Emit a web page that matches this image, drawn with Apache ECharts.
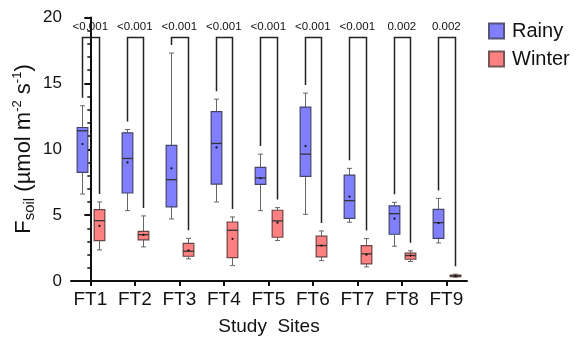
<!DOCTYPE html>
<html><head><meta charset="utf-8">
<script src="https://cdn.jsdelivr.net/npm/echarts@6/dist/echarts.min.js"></script>
<style>html,body{margin:0;padding:0;background:#fff}#c{width:583px;height:341px}</style>
</head><body><div id="c"></div>
<script>
const categories = ['FT1','FT2','FT3','FT4','FT5','FT6','FT7','FT8','FT9'];
const yTicks = [0, 5, 10, 15, 20];
const pValues = ['<0.001','<0.001','<0.001','<0.001','<0.001','<0.001','<0.001','0.002','0.002'];

const rainyMin  = [6.6, 5.34, 4.71, 6.0, 5.34, 5.06, 4.46, 2.64, 2.89];
const rainyQ1   = [8.24, 6.68, 5.62, 7.36, 7.33, 7.94, 4.76, 3.55, 3.24];
const rainyMed  = [11.4, 9.3, 7.69, 10.44, 7.82, 9.63, 6.1, 5.11, 4.43];
const rainyQ3   = [11.65, 11.25, 10.3, 12.86, 8.62, 13.2, 8.04, 5.7, 5.44];
const rainyMax  = [13.3, 11.5, 17.3, 13.8, 9.63, 14.26, 8.55, 5.97, 6.27];
const rainyMean = [10.4, 9.0, 8.55, 10.14, 7.8, 10.24, 6.4, 4.73, 4.4];

const winterMin  = [2.36, 2.59, 1.68, 1.17, 3.07, 1.55, 1.07, 1.48, 0.29];
const winterQ1   = [3.07, 3.12, 1.88, 1.78, 3.32, 1.83, 1.3, 1.65, 0.33];
const winterMed  = [4.58, 3.52, 2.26, 3.85, 4.56, 2.69, 2.06, 1.93, 0.39];
const winterQ3   = [5.42, 3.77, 2.86, 4.48, 5.37, 3.4, 2.69, 2.11, 0.45];
const winterMax  = [6.0, 4.94, 3.24, 4.86, 5.57, 3.8, 3.22, 2.29, 0.52];
const winterMean = [4.18, 3.5, 2.33, 3.2, 4.43, 2.69, 2.0, 1.93, 0.39];

const FONT = 'Liberation Sans, Arial, sans-serif';
const BRACKET_TOP = 18.5;

function boxRenderer(off, stroke) {
  return function (params, api) {
    const i = api.value(0);
    const bw = api.size([1, 0])[0];
    const cx = Math.round(api.coord([i, 0])[0] + off * bw) + 0.5;
    const y = k => api.coord([i, api.value(k)])[1];
    const w = 0.24 * bw, cap = 2.5;
    const yMin = y(1), yQ1 = y(2), yMed = y(3), yQ3 = y(4), yMax = y(5), yMean = y(6);
    const ls = { stroke: '#666', lineWidth: 1 };
    return {
      type: 'group',
      children: [
        { type: 'line', shape: { x1: cx, y1: yMax, x2: cx, y2: yQ3 }, style: ls },
        { type: 'line', shape: { x1: cx, y1: yQ1, x2: cx, y2: yMin }, style: ls },
        { type: 'line', shape: { x1: cx - cap, y1: yMax, x2: cx + cap, y2: yMax }, style: ls },
        { type: 'line', shape: { x1: cx - cap, y1: yMin, x2: cx + cap, y2: yMin }, style: ls },
        { type: 'rect', shape: { x: cx - w / 2, y: yQ3, width: w, height: yQ1 - yQ3 },
          style: { fill: api.visual('color'), stroke: stroke, lineWidth: 1.2 } },
        { type: 'line', shape: { x1: cx - w / 2, y1: yMed, x2: cx + w / 2, y2: yMed },
          style: { stroke: '#333', lineWidth: 1.3 } },
        { type: 'circle', shape: { cx: cx, cy: yMean, r: 1.1 }, style: { fill: '#111' } }
      ]
    };
  };
}

function bracketRenderer(params, api) {
  const i = api.value(0);
  const bw = api.size([1, 0])[0];
  const c = api.coord([i, 0])[0];
  const xl = Math.round(c - 0.185 * bw) + 0.5, xr = Math.round(c + 0.185 * bw) + 0.5;
  const yt = Math.round(api.coord([i, BRACKET_TOP])[1]) + 0.5;
  const yl = api.coord([i, api.value(1)])[1] - 8;
  const yr = api.coord([i, api.value(2)])[1] - 8;
  return {
    type: 'group',
    children: [
      { type: 'polyline', shape: { points: [[xl, yl], [xl, yt], [xr, yt], [xr, yr]] },
        style: { stroke: '#222', lineWidth: 1.5, fill: null } },
      { type: 'text', style: { text: pValues[i], x: c, y: yt - 11, align: 'center', verticalAlign: 'middle',
          font: '11.5px ' + FONT, fill: '#111' } }
    ]
  };
}

const chart = echarts.init(document.getElementById('c'), null, { renderer: 'canvas' });
chart.setOption({
  animation: false,
  backgroundColor: '#fff',
  grid: { left: 71, right: 116, top: 17.5, bottom: 59.5 },
  legend: {
    data: ['Rainy', 'Winter'], orient: 'vertical', left: 488, top: 21, padding: 0,
    itemWidth: 15, itemHeight: 15, itemGap: 8, icon: 'rect',
    textStyle: { fontFamily: FONT, fontSize: 20, color: '#111', lineHeight: 20, padding: [0, 0, 0, 3] }
  },
  xAxis: {
    type: 'value', min: -0.434, max: 8.465,
    axisLine: { show: true, lineStyle: { color: '#111', width: 2 } },
    axisTick: { show: true, length: 5, customValues: categories.map((c, i) => i), lineStyle: { color: '#111', width: 2 } },
    axisLabel: { customValues: categories.map((c, i) => i), formatter: v => categories[Math.round(v)],
      fontFamily: FONT, fontSize: 19, color: '#111', margin: 9 },
    splitLine: { show: false },
    name: 'Study  Sites', nameLocation: 'middle', nameGap: 36,
    nameTextStyle: { fontFamily: FONT, fontSize: 19, color: '#111' }
  },
  yAxis: {
    type: 'value', min: 0, max: 20, interval: 5,
    axisLine: { show: true, lineStyle: { color: '#111', width: 2 } },
    axisTick: { show: true, length: 6, lineStyle: { color: '#111', width: 2 } },
    minorTick: { show: true, splitNumber: 5, length: 3, lineStyle: { color: '#111', width: 1.5 } },
    axisLabel: { fontFamily: FONT, fontSize: 17, color: '#111', margin: 9,
      customValues: yTicks },
    splitLine: { show: false }
  },
  graphic: [{
    type: 'text', x: 24, y: 149, rotation: Math.PI / 2,
    style: {
      text: '{n|F}{sub|soil}{n| (µmol m}{sup|-2}{n| s}{sup|-1}{n|)}',
      align: 'center', verticalAlign: 'middle', fill: '#111',
      rich: {
        n: { fontFamily: FONT, fontSize: 22, lineHeight: 26, fill: '#111' },
        sub: { fontFamily: FONT, fontSize: 15, lineHeight: 15, verticalAlign: 'bottom', fill: '#111' },
        sup: { fontFamily: FONT, fontSize: 13, lineHeight: 13, verticalAlign: 'top', fill: '#111' }
      }
    }
  }],
  series: [
    { type: 'custom', name: 'Rainy', renderItem: boxRenderer(-0.185, '#44446a'),
      itemStyle: { color: '#8080ff', borderColor: '#55557a', borderWidth: 1 },
      encode: { x: 0, y: [1, 2, 3, 4, 5, 6] },
      data: categories.map((c, i) => [i, rainyMin[i], rainyQ1[i], rainyMed[i], rainyQ3[i], rainyMax[i], rainyMean[i]]) },
    { type: 'custom', name: 'Winter', renderItem: boxRenderer(0.185, '#6a4444'),
      itemStyle: { color: '#ff8080', borderColor: '#7a5555', borderWidth: 1 },
      encode: { x: 0, y: [1, 2, 3, 4, 5, 6] },
      data: categories.map((c, i) => [i, winterMin[i], winterQ1[i], winterMed[i], winterQ3[i], winterMax[i], winterMean[i]]) },
    { type: 'custom', name: 'brackets', renderItem: bracketRenderer, silent: true,
      encode: { x: 0, y: [1, 2] },
      data: categories.map((c, i) => [i, rainyMax[i], winterMax[i]]) }
  ]
});
</script></body></html>
